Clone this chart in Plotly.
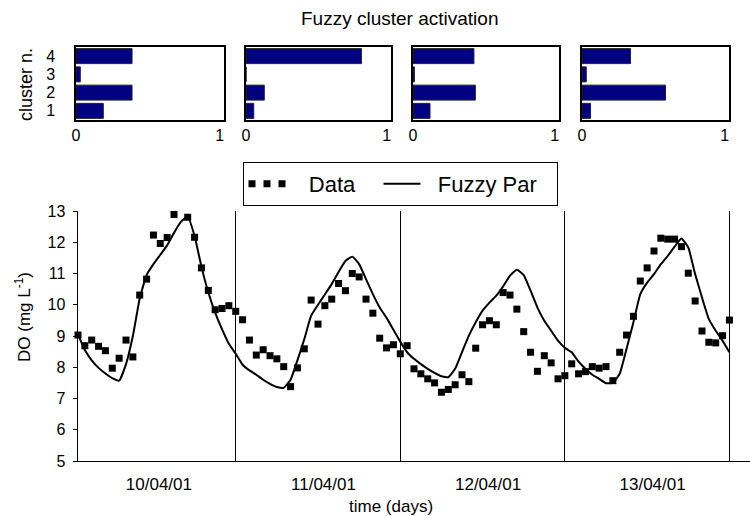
import pandas as pd
import plotly.graph_objects as go

# Hourly dissolved-oxygen measurements, 10/04/01 01:00 -> 14/04/01 00:00
do_data = [
    9.03, 8.69, 8.87, 8.67, 8.53, 7.97, 8.29, 8.87, 8.33, 10.31, 10.82, 12.23,
    11.96, 12.15, 12.89, 13.16, 12.80, 12.16, 11.18, 10.46, 9.84, 9.88, 9.97, 9.79,
    9.52, 8.87, 8.39, 8.56, 8.37, 8.27, 8.02, 7.38, 7.98, 8.59, 10.15, 9.38,
    9.97, 10.18, 10.68, 10.45, 11.00, 10.89, 10.18, 9.73, 8.93, 8.62, 8.72, 8.43,
    8.69, 7.95, 7.79, 7.63, 7.50, 7.20, 7.29, 7.44, 7.76, 7.54, 8.61, 9.36,
    9.49, 9.36, 10.39, 10.31, 9.86, 9.14, 8.48, 7.87, 8.37, 8.14, 7.63, 7.73,
    8.11, 7.79, 7.86, 8.02, 7.97, 8.02, 7.57, 8.48, 9.03, 9.63, 10.76, 11.18,
    11.72, 12.13, 12.10, 12.10, 11.86, 11.01, 10.12, 9.16, 8.80, 8.78, 9.01, 9.51,
]

# Fuzzy parametric model output at the same hours
fuzzy_par = [
    9.05, 8.55, 8.22, 7.98, 7.80, 7.65, 7.57, 8.10, 9.00, 10.20, 10.95, 11.30,
    11.60, 11.90, 12.30, 12.65, 12.82, 12.20, 11.22, 10.40, 9.75, 9.22, 8.75, 8.43,
    8.08, 7.90, 7.76, 7.60, 7.47, 7.37, 7.34, 7.60, 8.22, 8.90, 9.65, 10.00,
    10.33, 10.66, 11.05, 11.40, 11.54, 11.30, 10.82, 10.34, 9.91, 9.58, 9.20, 8.82,
    8.48, 8.27, 8.10, 7.95, 7.82, 7.71, 7.68, 7.95, 8.48, 9.01, 9.44, 9.81,
    10.07, 10.29, 10.59, 10.93, 11.12, 10.95, 10.45, 9.91, 9.49, 9.17, 8.85, 8.62,
    8.48, 8.18, 7.95, 7.76, 7.63, 7.49, 7.50, 7.79, 8.59, 9.44, 10.34, 10.71,
    10.98, 11.30, 11.56, 11.86, 12.12, 11.83, 10.98, 10.23, 9.54, 9.17, 8.85, 8.48,
]

# Cluster activation degrees (clusters 1..4) for each of the four days
clusters = [1, 2, 3, 4]
activation_day1 = [0.19, 0.39, 0.03, 0.39]
activation_day2 = [0.055, 0.13, 0.0, 0.82]
activation_day3 = [0.12, 0.44, 0.01, 0.43]
activation_day4 = [0.06, 0.585, 0.03, 0.34]
activations = [activation_day1, activation_day2, activation_day3, activation_day4]

day_labels = ["10/04/01", "11/04/01", "12/04/01", "13/04/01"]
day_label_times = ["2001-04-10 12:48", "2001-04-11 12:48", "2001-04-12 12:48", "2001-04-13 12:48"]
midnights = ["2001-04-11", "2001-04-12", "2001-04-13", "2001-04-14"]

times = pd.date_range("2001-04-10 01:00", periods=len(do_data), freq="h")

W, H = 750, 516
FONT = "Liberation Sans, Arial, sans-serif"
NB = "&nbsp;"
CLEAR = "rgba(0,0,0,0)"


def px_x(p):
    return p / W


def px_y(p):
    return 1 - p / H


fig = go.Figure()

# legend-only entry rendering the measured series as a row of squares
fig.add_trace(go.Scatter(
    x=[None], y=[None], mode="lines", name=NB * 3 + "Data", legendwidth=83,
    line=dict(color="black", width=7, dash="7px,8px"),
))
fig.add_trace(go.Scatter(
    x=times, y=do_data, mode="markers", name="Data", showlegend=False,
    marker=dict(symbol="square", size=7, color="black"), cliponaxis=False,
))
fig.add_trace(go.Scatter(
    x=times, y=fuzzy_par, mode="lines", name=NB * 2 + "Fuzzy Par", legendwidth=126,
    line=dict(color="black", width=2, shape="spline", smoothing=0.4),
))

panel_x = [(76, 224), (246, 391), (413, 559), (582, 729)]
for i, vals in enumerate(activations):
    fig.add_trace(go.Bar(
        x=vals, y=clusters, orientation="h", width=0.82, showlegend=False,
        xaxis=f"x{i + 2}", yaxis=f"y{i + 2}",
        marker=dict(color="#000080", line=dict(color="#222222", width=1)),
    ))

layout = dict(
    width=W, height=H,
    margin=dict(l=0, r=0, t=0, b=0, autoexpand=False),
    paper_bgcolor="white", plot_bgcolor="white",
    font=dict(family=FONT, color="black", size=15),
    xaxis=dict(
        domain=[px_x(78), 1.0], type="date",
        range=["2001-04-10 01:00", "2001-04-14 03:00"],
        tickvals=day_label_times, ticktext=day_labels, tickfont=dict(size=17),
        ticks="outside", ticklen=8, tickcolor=CLEAR,
        showgrid=False, zeroline=False, automargin=False,
        showline=True, linecolor="black", linewidth=1,
        minor=dict(tickvals=midnights, showgrid=True, gridcolor="black", gridwidth=1, ticks=""),
        anchor="y",
    ),
    yaxis=dict(
        domain=[px_y(461), px_y(211)], range=[5, 13], dtick=1,
        ticks="outside", ticklen=4, tickcolor="black", tickfont=dict(size=16),
        ticksuffix=NB, automargin=False,
        showgrid=False, zeroline=False,
        showline=True, linecolor="black", linewidth=1, anchor="x",
    ),
    legend=dict(
        orientation="h", x=px_x(400), xanchor="center", y=px_y(162), yanchor="top",
        bordercolor="black", borderwidth=1, bgcolor="white",
        font=dict(size=22), traceorder="normal", itemwidth=37,
    ),
)

for i, (x0, x1) in enumerate(panel_x):
    n = i + 2
    layout[f"xaxis{n}"] = dict(
        domain=[px_x(x0), px_x(x1)], range=[0, 1.03], tickvals=[0, 1],
        ticks="", showgrid=False, zeroline=False, tickfont=dict(size=16),
        automargin=False,
        showline=True, mirror=True, linecolor="black", linewidth=1.5,
        anchor=f"y{n}",
    )
    layout[f"yaxis{n}"] = dict(
        domain=[px_y(120), px_y(47)], range=[0.5, 4.5], tickvals=clusters,
        showticklabels=(i == 0), ticks="outside", ticklen=16, tickcolor=CLEAR,
        showgrid=False, zeroline=False, tickfont=dict(size=16), automargin=False,
        showline=True, mirror=True, linecolor="black", linewidth=1.5,
        anchor=f"x{n}",
    )

common = dict(xref="paper", yref="paper", showarrow=False, xanchor="center", yanchor="middle")
layout["annotations"] = [
    dict(text="Fuzzy cluster activation", x=px_x(399), y=px_y(19), font=dict(size=19), **common),
    dict(text="cluster n.", x=px_x(26), y=px_y(85), textangle=-90, font=dict(size=18), **common),
    dict(text="DO (mg L<sup>-1</sup>)", x=px_x(23), y=px_y(317), textangle=-90,
         font=dict(size=17), **common),
    dict(text="time (days)", x=px_x(391), y=px_y(506), font=dict(size=17), **common),
]

fig.update_layout(**layout)
fig.write_html("out.html")
